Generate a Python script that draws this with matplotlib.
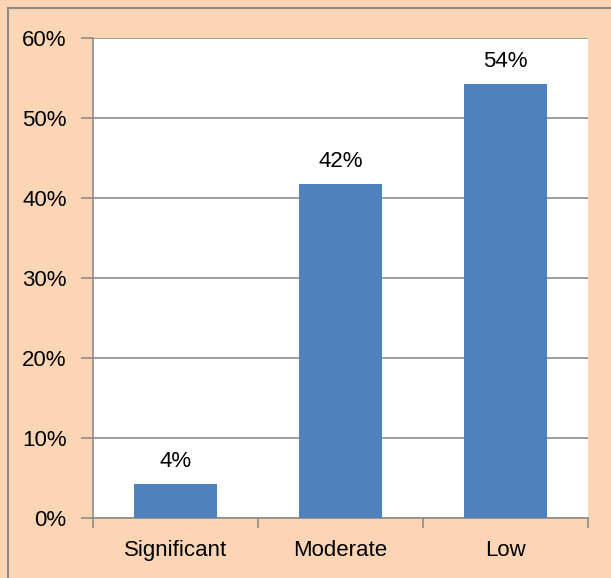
import matplotlib
matplotlib.use("Agg")
import matplotlib.pyplot as plt
from matplotlib.patches import Rectangle
from matplotlib.ticker import FuncFormatter, MultipleLocator

categories = ["Significant", "Moderate", "Low"]
values = [4.2, 41.7, 54.2]
labels = ["4%", "42%", "54%"]

plt.rcParams['font.family'] = ['Liberation Sans', 'DejaVu Sans']
fs = 16

W, H = 611, 578
fig = plt.figure(figsize=(W/100, H/100), dpi=100)
fig.patch.set_facecolor('#FCD5B5')

# outer border (only left and top visible in the crop)
fig.add_artist(Rectangle((8/W, -0.1), 1.2, (H-8)/H + 0.1, transform=fig.transFigure,
                         fill=False, edgecolor='#8C8C8C', linewidth=1.5))

ax = fig.add_axes([93/W, 1-518/H, (588-93)/W, (518-38)/H])
ax.set_facecolor('white')

x = list(range(len(categories)))
ax.bar(x, values, width=0.5, color='#4F81BD', zorder=3)
for xi, v, lab in zip(x, values, labels):
    ax.text(xi, v + 1.6, lab, ha='center', va='bottom', fontsize=fs, color='black')

ax.set_xlim(-0.5, 2.5)
ax.set_ylim(0, 60)
ax.yaxis.set_major_locator(MultipleLocator(10))
ax.yaxis.set_major_formatter(FuncFormatter(lambda v, p: f"{int(v)}%"))
ax.grid(axis='y', color='#8C8C8C', linewidth=1.2, zorder=0)
ax.set_xticks(x)
ax.set_xticklabels(categories)
ax.set_xticks([-0.5, 0.5, 1.5, 2.5], minor=True)
ax.tick_params(axis='x', which='major', length=0, pad=16, labelsize=fs)
ax.tick_params(axis='x', which='minor', length=7, color='#8C8C8C', width=1.2, direction='out')
ax.tick_params(axis='y', length=9, color='#8C8C8C', width=1.2, direction='out', pad=10, labelsize=fs)

for s in ['top', 'right']:
    ax.spines[s].set_visible(False)
for s in ['left', 'bottom']:
    ax.spines[s].set_color('#8C8C8C')
    ax.spines[s].set_linewidth(1.2)

fig.savefig('out.png', dpi=100, facecolor=fig.get_facecolor())
